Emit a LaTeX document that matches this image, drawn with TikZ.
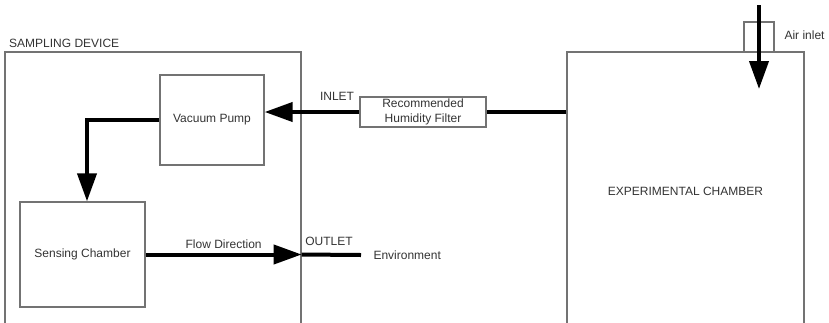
\documentclass[tikz,border=0pt]{standalone}
\usepackage{fontspec}
\setmainfont{Liberation Sans}
\usetikzlibrary{positioning,arrows.meta}

\begin{document}
\begin{tikzpicture}[x=1pt,y=-1pt,
  every node/.style={font=\fontsize{12}{15}\selectfont,text=black!80},
  unit/.style={draw=black!55,line width=1.3pt,rectangle,inner sep=0pt},
  flow/.style={line width=4pt,-{Triangle[length=28pt,width=19pt]}},
  pipe/.style={line width=4pt}]

\useasboundingbox (0,0) rectangle (829,322);
\clip (0,0) rectangle (829,322);

\node [unit,minimum width=296pt,minimum height=278pt] at (153,191) (device) {};
\node [anchor=south west,inner sep=0pt] at (9,48) (devlabel) {SAMPLING DEVICE};

\node [unit,minimum width=104pt,minimum height=90pt] at (212,120) (pump) {Vacuum Pump};
\node [unit,minimum width=125pt,minimum height=105pt] at (82.5,254.5) (sensor) {Sensing Chamber};
\node [unit,minimum width=126pt,minimum height=30pt,align=center] at (423,112) (filter) {Recommended\\Humidity Filter};
\node [unit,minimum width=237pt,minimum height=278pt] at (685.5,191) (chamber) {EXPERIMENTAL CHAMBER};
\node [unit,minimum width=30pt,minimum height=30pt] at (759,37) (airbox) {};

\coordinate (bend) at (87,120);
\coordinate (envend) at (361,255);
\coordinate (airtop) at (759,5);
\coordinate (airtip) at (759,89);

\node at (337,96) (inlet) {INLET};
\node at (329,241) (outlet) {OUTLET};
\node [anchor=west] at (370,255) (env) {Environment};
\node [anchor=west] at (781,35) (airlabel) {Air inlet};

\draw [flow] (pump.west) -- (bend) -- (bend |- sensor.north);
\draw [flow] (sensor.east) -- node [above=1pt] (flowlabel) {Flow Direction} (sensor.east -| device.east);
\draw [pipe] (sensor.east -| device.east) -- (envend);

\draw [flow] (filter.west) -- (filter.west -| pump.east);
\draw [pipe] (chamber.west |- filter.east) -- (filter.east);

\draw [flow] (airtop) -- (airtip);

\end{tikzpicture}
\end{document}
